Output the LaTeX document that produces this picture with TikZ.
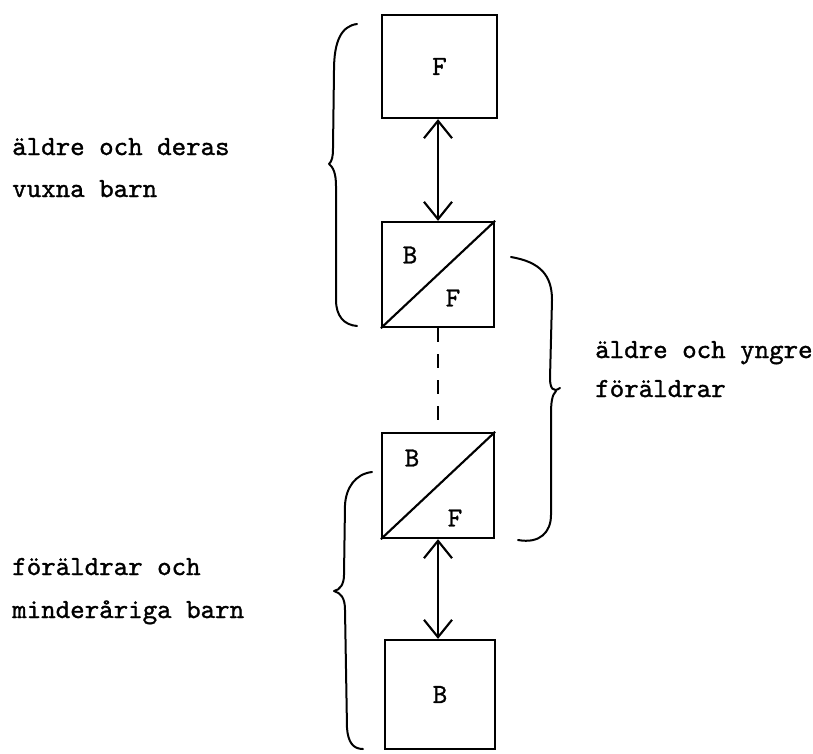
\documentclass[tikz,border=0pt]{standalone}
\usepackage{fontspec}
\newfontfamily\typewr{lmmono10-regular.otf}[FakeBold=1.2]
\usetikzlibrary{arrows.meta}
\begin{document}
\begin{tikzpicture}[x=0.75pt,y=-0.75pt,
  txt/.style={font=\fontsize{20.7pt}{24pt}\selectfont\typewr,inner sep=0pt},
  lbl/.style={txt,anchor=base west},
  boxnode/.style={draw,line width=1.7pt,inner sep=0pt,txt},
  dbl/.style={line width=1.6pt,{Straight Barb[length=13pt,width=21pt,line width=1.6pt]}-{Straight Barb[length=13pt,width=21pt,line width=1.6pt]}},
  dashline/.style={line width=1.6pt,dash pattern=on 10.5pt off 9pt},
  bracepath/.style={line width=1.5pt,line cap=round,line join=round}]
\useasboundingbox (0,0) rectangle (813,753);
% boxes
\node[boxnode,minimum width=86.25pt,minimum height=77.25pt] (b1) at (439.5,66.5) {F};
\node[boxnode,minimum width=84pt,minimum height=78.75pt] (b2) at (438,274.5) {};
\node[boxnode,minimum width=84pt,minimum height=78.75pt] (b3) at (438,485.5) {};
\node[boxnode,minimum width=82.5pt,minimum height=81.75pt] (b4) at (440,694.5) {B};
% diagonals
\draw[line width=1.6pt] (b2.south west) -- (b2.north east);
\draw[line width=1.6pt] (b3.south west) -- (b3.north east);
% split labels
\node[txt] (b2B) at (410,255) {B};
\node[txt] (b2F) at (453,298) {F};
\node[txt] (b3B) at (412,458) {B};
\node[txt] (b3F) at (455,518) {F};
% connectors
\draw[dbl] (b2.north |- b1.south) -- (b2.north);
\draw[dashline] (b2.south) -- (b3.north);
\draw[dbl] (b3.south) -- (b3.south |- b4.north);
% braces
\draw[bracepath] (357,24) .. controls (341,26) and (334,42) .. (334,70) -- (333,148)
  .. controls (333,157) and (332,161) .. (329,164)
  .. controls (333,167) and (336,173) .. (336,186) -- (336,300)
  .. controls (336,316) and (344,325) .. (357,326);
\draw[bracepath] (511,257) .. controls (540,262) and (552,275) .. (552,300) -- (550,378)
  .. controls (550,388) and (553,393) .. (560,388);
\draw[bracepath] (556,391) .. controls (552,395) and (551,402) .. (551,415) -- (551,515)
  .. controls (551,532) and (540,544) .. (518,540);
\draw[bracepath] (372,472) .. controls (355,474) and (346,488) .. (345,505) -- (344,575)
  .. controls (344,584) and (340,590) .. (334,591)
  .. controls (341,593) and (345,598) .. (345,610) -- (347,728)
  .. controls (348,742) and (353,749) .. (363,749);
% texts
\node[lbl] (t1) at (12,155) {äldre och deras};
\node[lbl] (t2) at (12,197) {vuxna barn};
\node[lbl] (t3) at (595,358) {äldre och yngre};
\node[lbl] (t4) at (595,397) {föräldrar};
\node[lbl] (t5) at (12,575) {föräldrar och};
\node[lbl] (t6) at (12,618) {minderåriga barn};
\end{tikzpicture}
\end{document}
